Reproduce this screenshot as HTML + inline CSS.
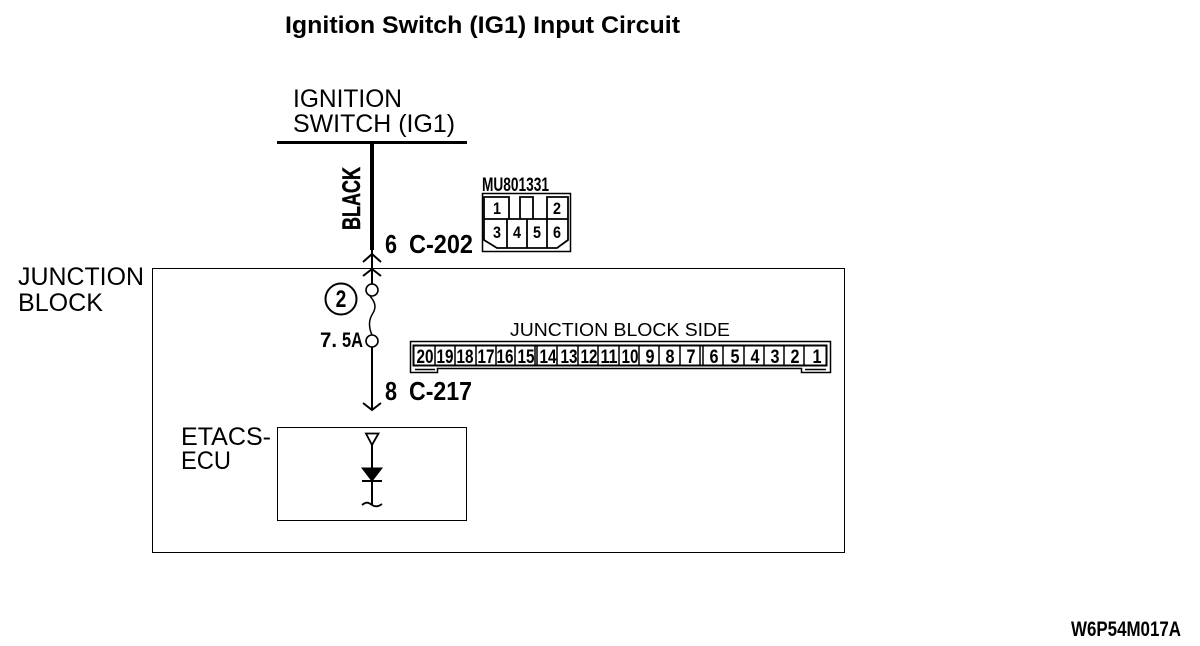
<!DOCTYPE html>
<html><head><meta charset="utf-8"><style>
html,body{margin:0;padding:0;background:#fff;width:1200px;height:646px;overflow:hidden}
svg{display:block}
text{font-family:"Liberation Sans",sans-serif;fill:#000}
.b{font-weight:bold}
.n{font-weight:bold;font-size:19px;text-anchor:middle}
.s{font-weight:bold;font-size:17px;text-anchor:middle}
</style></head><body>
<svg width="1200" height="646" viewBox="0 0 1200 646" xmlns="http://www.w3.org/2000/svg" fill="none" stroke="#000">
<text class="b" stroke="none" x="285" y="33" font-size="24" textLength="395" lengthAdjust="spacingAndGlyphs">Ignition Switch (IG1) Input Circuit</text>
<text stroke="none" x="293" y="107" font-size="25" textLength="109" lengthAdjust="spacingAndGlyphs">IGNITION</text>
<text stroke="none" x="293" y="132" font-size="25" textLength="162" lengthAdjust="spacingAndGlyphs">SWITCH (IG1)</text>
<line x1="277" y1="142.500" x2="467" y2="142.500" stroke-width="3"/>
<line x1="372" y1="142" x2="372" y2="250" stroke-width="4"/>
<line x1="372" y1="250" x2="372" y2="284" stroke-width="2"/>
<text class="b" stroke="#000" stroke-width=".5" font-size="25" transform="translate(360,230) rotate(-90)" textLength="63" lengthAdjust="spacingAndGlyphs">BLACK</text>
<text class="b" stroke="none" font-size="26" x="385" y="253" textLength="12" lengthAdjust="spacingAndGlyphs">6</text>
<text class="b" stroke="none" font-size="26" x="409" y="253" textLength="64" lengthAdjust="spacingAndGlyphs">C-202</text>
<rect x="152.500" y="268.500" width="692" height="284" stroke-width="1"/>
<path d="M363 262L372 254L381 262M363 276L372 269L381 276" stroke-width="2"/>
<circle cx="372" cy="290" r="6" stroke-width="1.600" fill="#fff"/>
<path d="M370 296C376 303 376 308 373 313C369 319 368 326 372 335" stroke-width="1.500"/>
<circle cx="372" cy="341" r="6" stroke-width="1.600" fill="#fff"/>
<line x1="372" y1="347" x2="372" y2="410" stroke-width="2"/>
<path d="M363 403L372 410L381 403" stroke-width="2"/>
<circle cx="341" cy="299" r="15.500" stroke-width="2"/>
<text class="b" stroke="none" font-size="24" text-anchor="middle" transform="translate(341,307) scale(.8,1)">2</text>
<text class="b" stroke="none" font-size="21" x="320" y="347" textLength="17" lengthAdjust="spacingAndGlyphs">7.</text>
<text class="b" stroke="none" font-size="21" x="342" y="347" textLength="21" lengthAdjust="spacingAndGlyphs">5A</text>
<text class="b" stroke="none" font-size="26" x="385" y="400" textLength="12" lengthAdjust="spacingAndGlyphs">8</text>
<text class="b" stroke="none" font-size="26" x="409" y="400" textLength="63" lengthAdjust="spacingAndGlyphs">C-217</text>
<text stroke="none" x="18" y="285" font-size="25" textLength="126" lengthAdjust="spacingAndGlyphs">JUNCTION</text>
<text stroke="none" x="18" y="311" font-size="25" textLength="85" lengthAdjust="spacingAndGlyphs">BLOCK</text>
<text stroke="none" x="181" y="445" font-size="25" textLength="90" lengthAdjust="spacingAndGlyphs">ETACS-</text>
<text stroke="none" x="181" y="469" font-size="25" textLength="50" lengthAdjust="spacingAndGlyphs">ECU</text>
<rect x="277.500" y="427.500" width="189" height="93" stroke-width="1"/>
<path d="M366 433.500H378.500L372 445Z" stroke-width="1.800"/>
<line x1="372" y1="445" x2="372" y2="505" stroke-width="2"/>
<path d="M362 468H382L372 481Z" fill="#000" stroke="#000" stroke-width="1"/>
<line x1="362" y1="481" x2="382" y2="481" stroke-width="2"/>
<path d="M362 505C367 501 369 503 372 505C375 507 378 507 382 504" stroke-width="1.800"/>

<text class="b" stroke="none" x="482" y="191" font-size="19" textLength="67" lengthAdjust="spacingAndGlyphs">MU801331</text>
<rect x="482.500" y="193.500" width="88" height="58" stroke-width="1.500"/>
<path d="M484 197H509V219H484ZM520 219V197H533V219M547 219V197H568V219M484 219H568V240L557 248H497L484 240ZM507 219V248M527 219V248M547 219V248" stroke-width="1.800"/>
<g stroke="none">
<text class="s" x="497" y="214" textLength="8" lengthAdjust="spacingAndGlyphs">1</text><text class="s" x="557" y="214" textLength="8" lengthAdjust="spacingAndGlyphs">2</text>
<text class="s" x="497" y="238" textLength="8" lengthAdjust="spacingAndGlyphs">3</text><text class="s" x="517" y="238" textLength="8" lengthAdjust="spacingAndGlyphs">4</text><text class="s" x="537" y="238" textLength="8" lengthAdjust="spacingAndGlyphs">5</text><text class="s" x="557" y="238" textLength="8" lengthAdjust="spacingAndGlyphs">6</text>
</g>

<text stroke="none" x="510" y="336" font-size="18" textLength="220" lengthAdjust="spacingAndGlyphs">JUNCTION BLOCK SIDE</text>
<path d="M410.500 341.500H830.500V372.500H801.500V368.500H437.500V372.500H410.500Z" stroke-width="1.500"/>
<rect x="413.500" y="345.500" width="413" height="20" stroke-width="2"/>
<path d="M435 345V366M455 345V366M476 345V366M496 345V366M515 345V366M535 345V366M537 345V366M557 345V366M578 345V366M598 345V366M619 345V366M639 345V366M659 345V366M680 345V366M700 345V366M703 345V366M723 345V366M744 345V366M764 345V366M784 345V366M804 345V366" stroke-width="1.500"/>
<path d="M415 369.500H435M805 369.500H826" stroke-width="1.500"/>
<g stroke="none">
<text class="n" x="425" y="363" textLength="17" lengthAdjust="spacingAndGlyphs">20</text>
<text class="n" x="445" y="363" textLength="17" lengthAdjust="spacingAndGlyphs">19</text>
<text class="n" x="465" y="363" textLength="17" lengthAdjust="spacingAndGlyphs">18</text>
<text class="n" x="486" y="363" textLength="17" lengthAdjust="spacingAndGlyphs">17</text>
<text class="n" x="505" y="363" textLength="17" lengthAdjust="spacingAndGlyphs">16</text>
<text class="n" x="526" y="363" textLength="17" lengthAdjust="spacingAndGlyphs">15</text>
<text class="n" x="548" y="363" textLength="17" lengthAdjust="spacingAndGlyphs">14</text>
<text class="n" x="569" y="363" textLength="17" lengthAdjust="spacingAndGlyphs">13</text>
<text class="n" x="589" y="363" textLength="17" lengthAdjust="spacingAndGlyphs">12</text>
<text class="n" x="609" y="363" textLength="17" lengthAdjust="spacingAndGlyphs">11</text>
<text class="n" x="630" y="363" textLength="17" lengthAdjust="spacingAndGlyphs">10</text>
<text class="n" x="650" y="363" textLength="9" lengthAdjust="spacingAndGlyphs">9</text>
<text class="n" x="670" y="363" textLength="9" lengthAdjust="spacingAndGlyphs">8</text>
<text class="n" x="691" y="363" textLength="9" lengthAdjust="spacingAndGlyphs">7</text>
<text class="n" x="714" y="363" textLength="9" lengthAdjust="spacingAndGlyphs">6</text>
<text class="n" x="735" y="363" textLength="9" lengthAdjust="spacingAndGlyphs">5</text>
<text class="n" x="755" y="363" textLength="9" lengthAdjust="spacingAndGlyphs">4</text>
<text class="n" x="775" y="363" textLength="9" lengthAdjust="spacingAndGlyphs">3</text>
<text class="n" x="795" y="363" textLength="9" lengthAdjust="spacingAndGlyphs">2</text>
<text class="n" x="817" y="363" textLength="9" lengthAdjust="spacingAndGlyphs">1</text>
</g>
<text class="b" stroke="none" x="1071" y="636" font-size="21" textLength="110" lengthAdjust="spacingAndGlyphs">W6P54M017A</text>
</svg>
</body></html>
